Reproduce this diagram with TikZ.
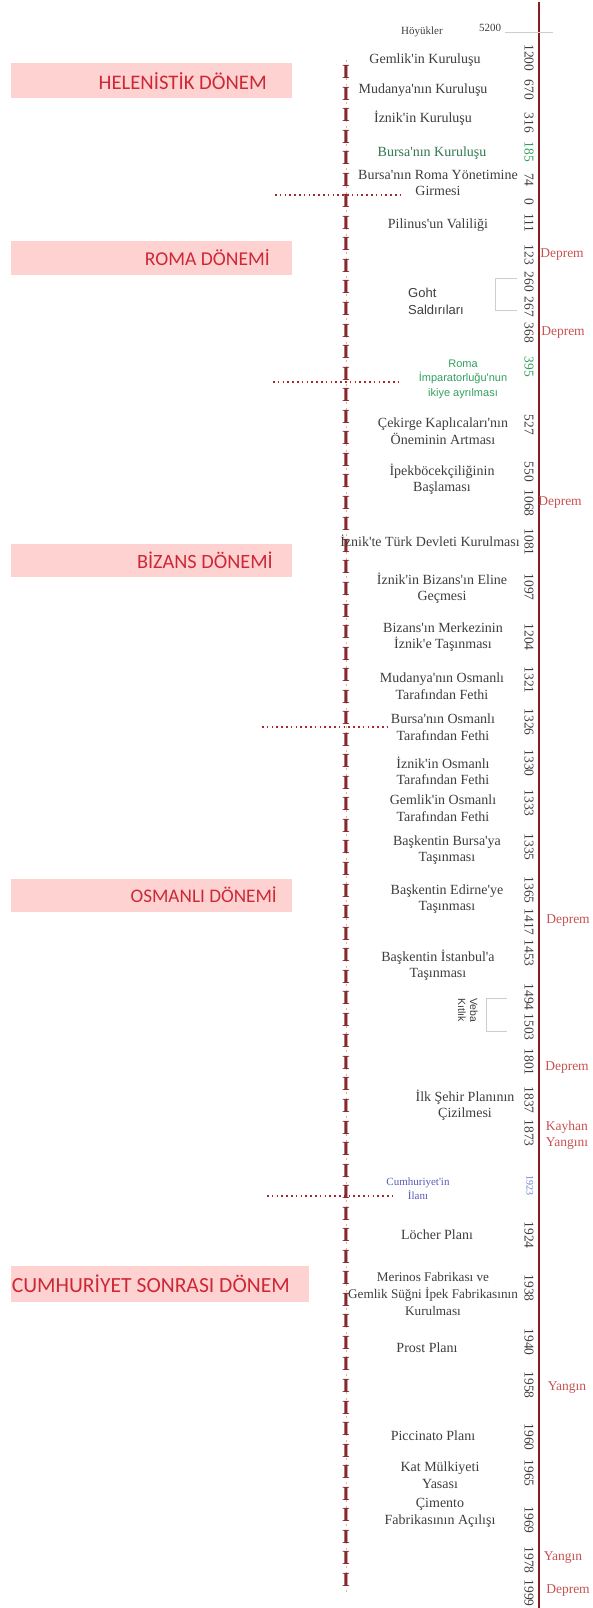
\documentclass[tikz,border=0pt]{standalone}
\usepackage{fontspec}
\setmainfont{Liberation Serif}[Ligatures=TeXOff]
\newfontfamily\sansf{Liberation Sans}[Ligatures=TeXOff]
\newfontfamily\perf{Carlito}
\definecolor{linered}{RGB}{135,28,34}
\definecolor{iglyph}{RGB}{135,40,45}
\definecolor{dashpink}{RGB}{235,170,170}
\definecolor{dotred}{RGB}{165,40,45}
\definecolor{evgray}{RGB}{62,62,62}
\definecolor{rtred}{RGB}{200,82,82}
\definecolor{evgreen}{RGB}{48,120,80}
\definecolor{brgreen}{RGB}{50,160,95}
\definecolor{evblue}{RGB}{90,90,185}
\definecolor{yrblue}{RGB}{100,130,205}
\definecolor{boxpink}{RGB}{255,210,210}
\definecolor{pertxt}{RGB}{205,40,55}
\definecolor{brgray}{RGB}{205,205,205}
\begin{document}
\begin{tikzpicture}[x=1pt,y=-1pt,
  ev/.style={font=\fontsize{14}{16.5}\selectfont, text=evgray, align=center, inner sep=0pt},
  evsmall/.style={font=\fontsize{11}{13}\selectfont, text=evgray, align=center, inner sep=0pt},
  yr/.style={font=\fontsize{13.5}{15}\selectfont, text=evgray, rotate=-90, inner sep=0pt},
  rt/.style={font=\fontsize{13.5}{16}\selectfont, text=rtred, align=left, inner sep=0pt},
  perbox/.style={fill=boxpink, draw=none, inner sep=0pt},
  pertext/.style={text=pertxt, inner sep=0pt, anchor=east},
  ichar/.style={font=\bfseries\fontsize{20}{20}\selectfont, text=iglyph, inner sep=0pt},
  sep/.style={draw=dotred, line width=1.6pt, dash pattern=on 1.6pt off 3.2pt},
  bracketline/.style={draw=brgray, line width=0.8pt},
  mainline/.style={draw=linered, line width=2pt}
]
\useasboundingbox (0,0) rectangle (592,1608);
\fill[white] (0,0) rectangle (592,1608);

% period boxes
\node[perbox, minimum width=281pt, minimum height=35pt] (bH) at (151.5,80.5) {};
\node[pertext, font=\perf\fontsize{20.7}{22}\selectfont] (tH) at (267,81.5) {HELENİSTİK DÖNEM};
\node[perbox, minimum width=281pt, minimum height=34pt] (bR) at (151.5,258) {};
\node[pertext, font=\perf\fontsize{19.6}{22}\selectfont] (tR) at (270,258) {ROMA DÖNEMİ};
\node[perbox, minimum width=281pt, minimum height=33pt] (bB) at (151.5,560.5) {};
\node[pertext, font=\perf\fontsize{20.3}{22}\selectfont] (tB) at (273,560) {BİZANS DÖNEMİ};
\node[perbox, minimum width=281pt, minimum height=33pt] (bO) at (151.5,895.5) {};
\node[pertext, font=\perf\fontsize{19.2}{22}\selectfont] (tO) at (277,895) {OSMANLI DÖNEMİ};
\node[perbox, minimum width=298pt, minimum height=36pt] (bC) at (160,1284) {};
\node[pertext, font=\perf\fontsize{21.6}{23}\selectfont] (tC) at (290,1284) {CUMHURİYET SONRASI DÖNEM};

% dashed vertical through I column
\coordinate (dtop) at (346,60);
\coordinate (dbot) at (346,1592);
\draw[draw=dashpink, line width=0.6pt, dash pattern=on 2pt off 4pt] (dtop) -- (dbot);
\foreach \i in {0,...,70} {
  \node[ichar] (I\i) at (346,{72+\i*21.54}) {I};
}

% separator dotted lines
\coordinate (s1a) at (275,195); \coordinate (s1b) at (400,195);
\coordinate (s2a) at (273,382); \coordinate (s2b) at (400,382);
\coordinate (s3a) at (262,727); \coordinate (s3b) at (387,727);
\coordinate (s4a) at (267,1196); \coordinate (s4b) at (393,1196);
\draw[sep] (s1a) -- (s1b);
\draw[sep] (s2a) -- (s2b);
\draw[sep] (s3a) -- (s3b);
\draw[sep] (s4a) -- (s4b);

% main line
\coordinate (mtop) at (539,2);
\coordinate (mbot) at (539,1608);
\draw[mainline] (mtop) -- (mbot);

% top gray line
\coordinate (g1) at (505,32);
\coordinate (g2) at (553,32);
\draw[draw=brgray, line width=0.8pt] (g1) -- (g2);
\node[evsmall] (hoy) at (422,32) {Höyükler};
\node[evsmall] (y5200) at (490,28) {5200};

% brackets
\coordinate (b1a) at (517,278); \coordinate (b1b) at (495,278);
\coordinate (b1c) at (495,310); \coordinate (b1d) at (517,310);
\draw[bracketline] (b1a) -- (b1b) -- (b1c) -- (b1d);
\coordinate (b2a) at (507,998); \coordinate (b2b) at (486,998);
\coordinate (b2c) at (486,1031); \coordinate (b2d) at (507,1031);
\draw[bracketline] (b2a) -- (b2b) -- (b2c) -- (b2d);

% events
\node[ev] (e1) at (425,60) {Gemlik'in Kuruluşu};
\node[ev] (e2) at (423,90) {Mudanya'nın Kuruluşu};
\node[ev] (e3) at (423,118) {İznik'in Kuruluşu};
\node[ev, text=evgreen] (e4) at (432,153) {Bursa'nın Kuruluşu};
\node[ev] (e5) at (438,183) {Bursa'nın Roma Yönetimine\\Girmesi};
\node[ev] (e6) at (438,225) {Pilinus'un Valiliği};
\node[ev, font=\sansf\fontsize{13}{17}\selectfont, align=left, anchor=west] (e7) at (408,301) {Goht\\Saldırıları};
\node[ev, font=\sansf\fontsize{11}{14.5}\selectfont, text=brgreen] (e8) at (463,379) {Roma\\İmparatorluğu'nun\\ikiye ayrılması};
\node[ev] (e9) at (443,431) {Çekirge Kaplıcaları'nın\\Öneminin Artması};
\node[ev] (e10) at (442,479) {İpekböcekçiliğinin\\Başlaması};
\node[ev] (e11) at (430,541) {İznik'te Türk Devleti Kurulması};
\node[ev] (e12) at (442,588) {İznik'in Bizans'ın Eline\\Geçmesi};
\node[ev] (e13) at (443,637) {Bizans'ın Merkezinin\\İznik'e Taşınması};
\node[ev] (e14) at (442,686) {Mudanya'nın Osmanlı\\Tarafından Fethi};
\node[ev] (e15) at (443,727) {Bursa'nın Osmanlı\\Tarafından Fethi};
\node[ev] (e16) at (443,771) {İznik'in Osmanlı\\Tarafından Fethi};
\node[ev] (e17) at (443,808) {Gemlik'in Osmanlı\\Tarafından Fethi};
\node[ev] (e18) at (447,850) {Başkentin Bursa'ya\\Taşınması};
\node[ev] (e19) at (447,899) {Başkentin Edirne'ye\\Taşınması};
\node[ev] (e20) at (438,965) {Başkentin İstanbul'a\\Taşınması};
\node[ev, font=\sansf\fontsize{10.5}{12}\selectfont, rotate=-90] (e21) at (468,1010) {Veba\\Kıtlık};
\node[ev] (e22) at (465,1105) {İlk Şehir Planının\\Çizilmesi};
\node[ev, font=\fontsize{11}{14}\selectfont, text=evblue] (e23) at (418,1189) {Cumhuriyet'in\\İlanı};
\node[ev] (e24) at (437,1235) {Löcher Planı};
\node[ev, font=\fontsize{13.2}{17}\selectfont] (e25) at (433,1294) {Merinos Fabrikası ve\\Gemlik Süğni İpek Fabrikasının\\Kurulması};
\node[ev] (e26) at (427,1348) {Prost Planı};
\node[ev] (e27) at (433,1436) {Piccinato Planı};
\node[ev] (e28) at (440,1475) {Kat Mülkiyeti\\Yasası};
\node[ev] (e29) at (440,1513) {Çimento\\Fabrikasının Açılışı};

% years
\foreach \yy/\lab/\nm in {58/1200/a,90/670/b,123/316/c,180/74/e,202/0/f,223/111/g,255/123/h,282/260/i,307/267/j,333/368/k,425/527/m,472/550/n,503/1068/o,542/1081/p,587/1097/q,637/1204/r,680/1321/s,722/1326/t,763/1330/u,803/1333/v,847/1335/w,890/1365/x,922/1417/y,953/1453/z,997/1494/aa,1027/1503/ab,1062/1801/ac,1100/1837/ad,1133/1873/ae,1235/1924/ag,1288/1938/ah,1342/1940/ai,1385/1958/aj,1437/1960/ak,1473/1965/al,1520/1969/am,1560/1978/an,1593/1999/ao} {
  \node[yr] (yr\nm) at (529,\yy) {\lab};
}
\node[yr, text=brgreen] (yrd) at (529,152) {185};
\node[yr, text=brgreen] (yrl) at (529,367) {395};
\node[yr, font=\fontsize{10}{12}\selectfont, text=yrblue] (yraf) at (530,1185) {1923};

% right labels
\node[rt] (r1) at (562,255) {Deprem};
\node[rt] (r2) at (563,333) {Deprem};
\node[rt] (r3) at (560,503) {Deprem};
\node[rt] (r4) at (568,921) {Deprem};
\node[rt] (r5) at (567,1068) {Deprem};
\node[rt] (r6) at (567,1135) {Kayhan\\Yangını};
\node[rt] (r7) at (567,1388) {Yangın};
\node[rt] (r8) at (563,1558) {Yangın};
\node[rt] (r9) at (568,1590) {Deprem};
\end{tikzpicture}
\end{document}
